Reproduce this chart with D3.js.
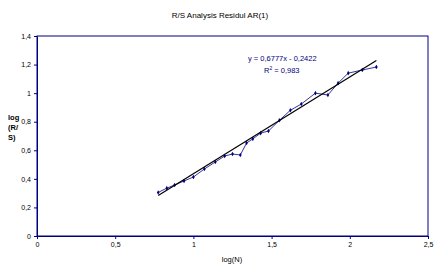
<!DOCTYPE html>
<html><head><meta charset="utf-8">
<script src="https://cdn.jsdelivr.net/npm/d3@7"></script>
<style>body{margin:0;background:#fff}svg{display:block}text{font-family:"Liberation Sans",Arial,sans-serif}</style>
</head><body>
<script>
const logN = [0.775,0.83,0.88,0.94,1.00,1.07,1.14,1.20,1.25,1.30,1.34,1.38,1.43,1.48,1.55,1.62,1.69,1.78,1.86,1.925,1.99,2.08,2.17];
const logRS = [0.305,0.335,0.357,0.385,0.413,0.469,0.518,0.56,0.574,0.567,0.651,0.68,0.72,0.735,0.81,0.88,0.924,1.00,0.987,1.07,1.14,1.162,1.183];
const xTicks = [0,0.5,1,1.5,2,2.5];
const yTicks = [0,0.2,0.4,0.6,0.8,1,1.2,1.4];
const slope = 0.6777, intercept = -0.2422, r2 = "0,983";
const title = "R/S Analysis Residul AR(1)";

const W=440,H=273;
const svg=d3.select("body").append("svg").attr("width",W).attr("height",H);
const x=d3.scaleLinear().domain([0,2.5]).range([37,428]);
const y=d3.scaleLinear().domain([0,1.4]).range([236,36]);
const fmt=d=>String(d).replace(".",",");
const navy="#000080";

svg.append("rect").attr("x",37).attr("y",36).attr("width",391).attr("height",200)
  .attr("fill","none").attr("stroke",navy).attr("stroke-width",1);

const ya=svg.append("g").attr("transform","translate(37,0)")
  .call(d3.axisLeft(y).tickValues(yTicks).tickFormat(fmt).tickSize(3).tickSizeOuter(0));
const xa=svg.append("g").attr("transform","translate(0,236)")
  .call(d3.axisBottom(x).tickValues(xTicks).tickFormat(fmt).tickSize(3).tickSizeOuter(0));
[ya,xa].forEach(g=>{g.select(".domain").attr("stroke",navy);g.selectAll("line").attr("stroke",navy);
  g.selectAll("text").attr("font-size",7).attr("fill","#000");});

svg.append("text").attr("x",220).attr("y",18).attr("text-anchor","middle").attr("font-size",8).text(title);
svg.append("text").attr("x",232).attr("y",262).attr("text-anchor","middle").attr("font-size",7.5).text("log(N)");
const yl=svg.append("text").attr("x",8).attr("y",120).attr("font-size",7.5).attr("font-weight","bold");
["log","(R/","S)"].forEach((t,i)=>yl.append("tspan").attr("x",8).attr("dy",i?10:0).text(t));

// data line
const pts=logN.map((v,i)=>[v,logRS[i]]);
svg.append("path").datum(pts).attr("fill","none").attr("stroke",navy).attr("stroke-width",0.8)
  .attr("d",d3.line().x(d=>x(d[0])).y(d=>y(d[1])));
svg.selectAll(".m").data(pts).enter().append("path")
  .attr("transform",d=>`translate(${x(d[0])},${y(d[1])})`)
  .attr("d",d3.symbol(d3.symbolDiamond,6)()).attr("fill",navy);

// trend line
const x0=d3.min(logN),x1=d3.max(logN);
svg.append("line").attr("x1",x(x0)).attr("y1",y(slope*x0+intercept))
  .attr("x2",x(x1)).attr("y2",y(slope*x1+intercept)).attr("stroke","#000").attr("stroke-width",1.2);

svg.append("text").attr("x",248).attr("y",61).attr("font-size",7.5).attr("fill",navy)
  .text(`y = ${fmt(slope)}x - ${fmt(-intercept)}`);
const rt=svg.append("text").attr("x",264).attr("y",73).attr("font-size",7.5).attr("fill",navy);
rt.append("tspan").text("R");rt.append("tspan").attr("dy",-3).attr("font-size",5).text("2");
rt.append("tspan").attr("dy",3).text(` = ${r2}`);
</script>
</body></html>
